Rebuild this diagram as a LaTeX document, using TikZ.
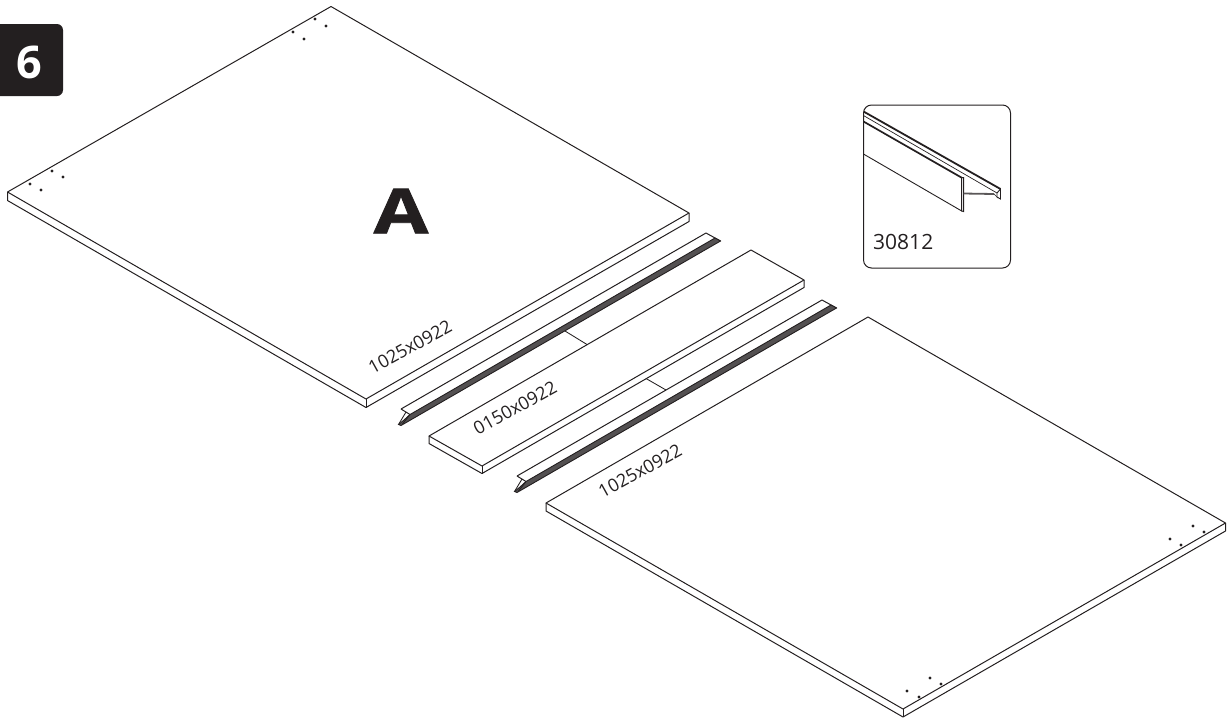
\documentclass[tikz,border=0pt]{standalone}
\usepackage{fontspec}
\setmainfont{Open Sans}
\newfontfamily\heavyfont[FakeBold=1.1]{Open Sans}
\definecolor{ink}{HTML}{231F20}
\tikzset{
  edge/.style={draw=ink,line width=1pt,line join=round},
  fine/.style={draw=ink,line width=0.85pt},
  hole/.style={circle,fill=ink,inner sep=0pt,minimum size=3.2pt},
  size label/.style={rotate=29,text=ink,inner sep=0pt,font=\fontsize{18}{18}\selectfont},
  strip/.style={draw=ink,line width=0.9pt,fill=ink!78},
}
\newcommand{\panelboard}[5]{%
  \draw[edge] (#2) -- (#1) -- (#3) -- (#4) -- cycle;
  \draw[edge] (#2) -- ++(0,#5) -- ($(#4)+(0,#5)$) -- ($(#3)+(0,#5)$) -- (#3);
  \draw[edge] (#4) -- ++(0,#5);
}
\newcommand{\railpiece}[2]{%
  \begin{scope}[shift={(#1,#2)}]
    \coordinate (ra) at (401,409);
    \coordinate (rb) at (706,233);
    \coordinate (rc) at (715,238);
    \coordinate (rd) at (720.5,241);
    \coordinate (re) at (401,425.5);
    \coordinate (rf) at (398.5,424.5);
    \coordinate (rg) at (410,414.5);
    \draw[edge,fill=white] (ra) -- (rb) -- (rd);
    \draw[edge] (ra) -- (rg);
    \fill[strip] (rc) -- (rd) -- (re) -- (rf) -- (404,420) -- (rg) -- cycle;
    \draw[fine] (406,412) -- (rf);
    \draw[fine] (rg) -- (402.5,424);
  \end{scope}
}
\usetikzlibrary{calc}
\begin{document}
\begin{tikzpicture}[x=1pt,y=-1pt]
\useasboundingbox (0,0) rectangle (1229,724);
\fill[ink] (0,24) -- (57,24) arc[start angle=90,end angle=0,x radius=6,y radius=-6] -- (63,90) arc[start angle=0,end angle=-90,x radius=6,y radius=-6] -- (0,96) -- cycle;
\node[text=white,inner sep=0pt,font=\fontsize{45}{45}\selectfont\bfseries] (badge) at (29,62) {6};
\coordinate (at) at (331,6.5); \coordinate (al) at (7.5,192); \coordinate (ar) at (689,213); \coordinate (af) at (366,399);
\panelboard{at}{al}{ar}{af}{8.5}
\coordinate (mt) at (751,250); \coordinate (ml) at (429,436); \coordinate (mr) at (804,280); \coordinate (mf) at (482,466);
\panelboard{mt}{ml}{mr}{mf}{7.5}
\coordinate (bt) at (868,317); \coordinate (bl) at (546,503); \coordinate (br) at (1225.5,523); \coordinate (bf) at (903,709);
\panelboard{bt}{bl}{br}{bf}{8}
\railpiece{0}{0}
\railpiece{116}{67}
\coordinate (m1a) at (565,331); \coordinate (m1b) at (587,344.5);
\coordinate (m2a) at (646,378.5); \coordinate (m2b) at (666,390);
\draw[fine] (m1a) -- (m1b);
\draw[fine] (m2a) -- (m2b);
\foreach \hx/\hy in {30/184,52/171,41/190,63/177,293/32,315/19,304/39,326/26,1170/539,1193/526,1181/545,1204/532,907/691,930/678,919/697,941/684}
  \node[hole] at (\hx,\hy) {};
\node[text=ink,inner sep=0pt,xscale=1.24,yscale=0.97,font=\fontsize{64}{64}\selectfont\heavyfont\bfseries] (letterA) at (401,211) {A};
\node[size label] (l1) at (410,347) {1025x0922};
\node[size label] (l2) at (515,408) {0150x0922};
\node[size label] (l3) at (640,471) {1025x0922};
\begin{scope}
  \clip[rounded corners=8pt] (863.5,105) rectangle (1010.5,268);
  \draw[ink,line width=1.8pt] (860,109.5) -- (1000.5,189);
  \draw[ink,line width=0.7pt] (860,113.5) -- (997,193);
  \draw[ink,line width=1.7pt] (860,119.5) -- (961.7,177.7);
  \draw[ink,line width=0.9pt] (860,152) -- (961.7,211);
\end{scope}
\draw[ink,line width=1pt,fill=white] (961.7,177.5) -- (963.5,177.5) -- (963.5,211.5) -- (961.7,211) -- cycle;
\draw[ink!75,line width=1.8pt] (963.5,193.5) -- (994,194);
\draw[ink,line width=0.7pt] (994,194) -- (998,198);
\draw[ink,line width=0.9pt,fill=white] (997,193) -- (1000.5,189) -- (1000.5,199) -- (997,197) -- cycle;
\draw[ink,line width=1pt,rounded corners=8pt] (863.5,105) rectangle (1010.5,268);
\node[text=ink,inner sep=0pt,anchor=base west,font=\fontsize{21}{21}\selectfont] (code) at (873,249) {30812};
\end{tikzpicture}
\end{document}
